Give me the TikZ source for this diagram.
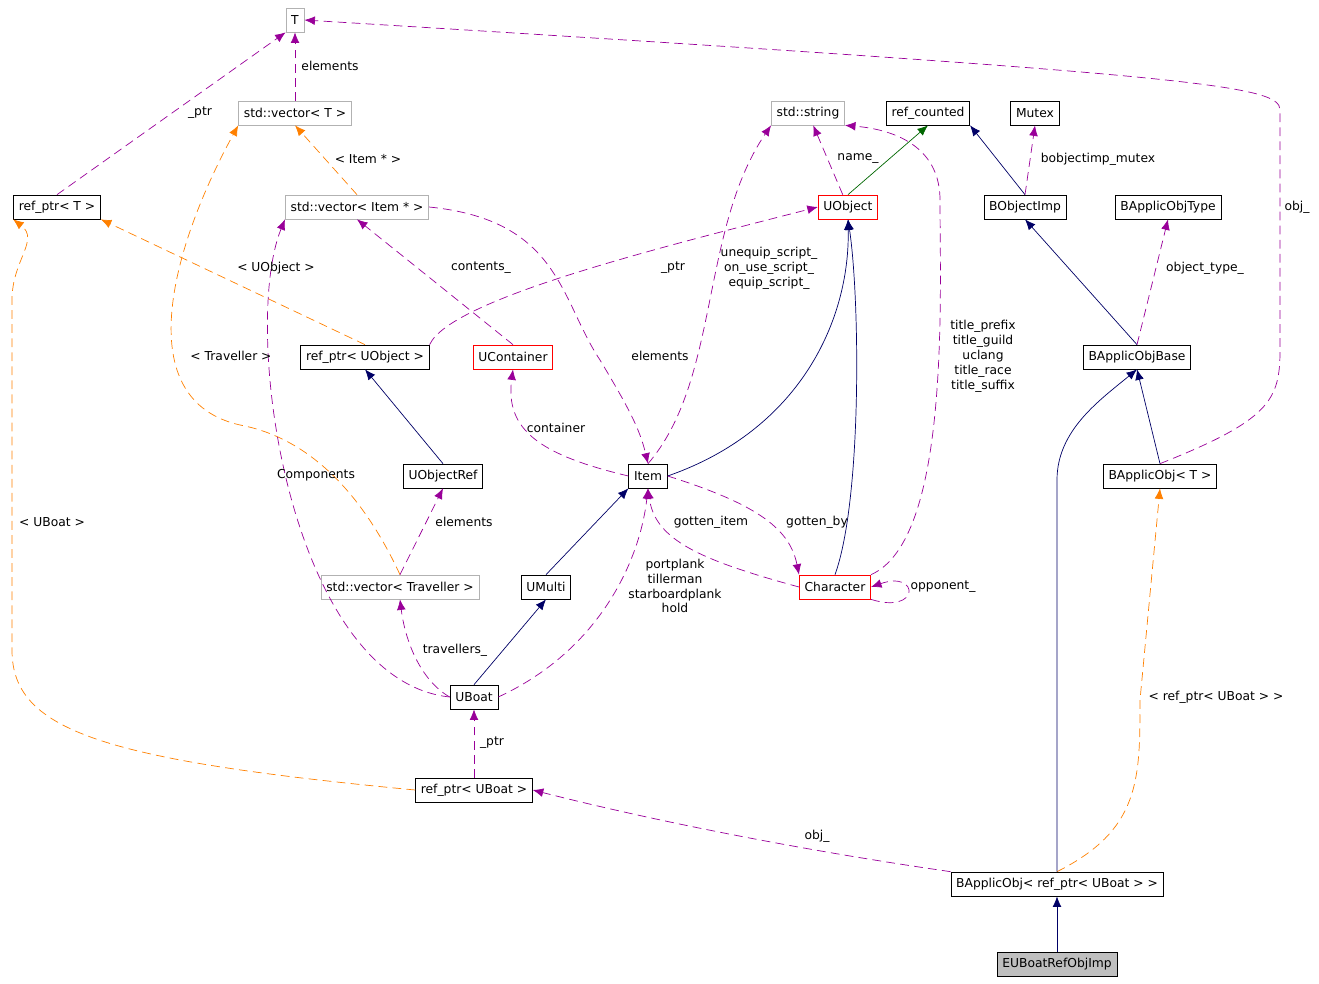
\documentclass[tikz,border=0pt]{standalone}
\usepackage{fontspec}
\setmainfont{DejaVu Sans}
\usetikzlibrary{arrows.meta}
\begin{document}
\begin{tikzpicture}[x=0.02cm,y=-0.02cm,font=\fontsize{7}{8.5}\selectfont]
\tikzstyle{cls}=[draw=black,fill=white,minimum height=0.48cm,inner sep=3pt,line width=0.4pt]
\tikzstyle{ext}=[cls,draw=gray!60]
\tikzstyle{red}=[cls,draw=red]
\tikzstyle{uses}=[draw=violet!80!magenta,dash pattern=on 5pt off 3pt,-{Latex[length=6pt,width=5pt]}]
\tikzstyle{tmpl}=[draw=orange,dash pattern=on 5pt off 3pt,-{Latex[length=6pt,width=5pt]}]
\tikzstyle{inh}=[draw=blue!40!black,-{Latex[length=6pt,width=5pt]}]
\tikzstyle{lbl}=[inner sep=1pt,align=center]
\useasboundingbox (0,0) rectangle (1319,984);
\node[ext] (T) at (295,20) {T};
\node[ext] (vecT) at (295,113) {std::vector< T >};
\node[ext] (vecItem) at (357,207) {std::vector< Item * >};
\node[cls] (refT) at (57,207) {ref\_ptr< T >};
\node[ext] (string) at (808,113) {std::string};
\node[cls] (refcnt) at (928,113) {ref\_counted};
\node[cls] (mutex) at (1035,113) {Mutex};
\node[red] (uobj) at (848,207) {UObject};
\node[cls] (bimp) at (1025,207) {BObjectImp};
\node[cls] (btype) at (1168,207) {BApplicObjType};
\node[cls] (refUObj) at (365,357) {ref\_ptr< UObject >};
\node[red] (ucont) at (513,357) {UContainer};
\node[cls] (bbase) at (1137,357) {BApplicObjBase};
\node[cls] (uref) at (443,476) {UObjectRef};
\node[cls] (item) at (648,476) {Item};
\node[cls] (bT) at (1160,476) {BApplicObj< T >};
\node[ext] (vecTrav) at (400,587) {std::vector< Traveller >};
\node[cls] (umulti) at (546,587) {UMulti};
\node[red] (chr) at (835,587) {Character};
\node[cls] (uboat) at (474,697) {UBoat};
\node[cls] (refUBoat) at (474,790) {ref\_ptr< UBoat >};
\node[cls] (bRef) at (1057,884) {BApplicObj< ref\_ptr< UBoat > >};
\node[cls,fill=gray!50] (eub) at (1057,964) {EUBoatRefObjImp};
% connectors
\draw[uses] (vecT) -- (T);
\draw[uses] (refT.north) -- (T.south west);
\draw[tmpl] (vecItem.north) -- (vecT.south);
\draw[tmpl] (refUObj.north) -- (refT.south east);
\draw[tmpl] (vecTrav.north) .. controls (370,510) and (320,440) .. (240,425) .. controls (130,400) and (170,250) .. (vecT.south west);
\draw[tmpl] (refUBoat.west) .. controls (100,760) and (12,730) .. (12,650) -- (12,300) .. controls (12,260) and (40,240) .. (refT.south west);
\draw[tmpl] (bRef.north) .. controls (1140,830) and (1140,780) .. (1140,700) -- (bT.south);
\draw[uses] (uobj) -- (string);
\draw[draw=green!40!black,-{Latex[length=6pt,width=5pt]}] (uobj.north) -- (refcnt.south);
\draw[inh] (bimp.north) -- (refcnt.south east);
\draw[uses] (bimp.north) -- (mutex.south);
\draw[inh] (bbase.north) -- (bimp.south);
\draw[uses] (bbase.north) -- (btype.south);
\draw[inh] (bT.north) -- (bbase.south);
\draw[uses] (bT.north) .. controls (1270,420) and (1280,400) .. (1280,350) -- (1280,110) .. controls (1280,85) and (1200,75) .. (T.east);
\draw[inh] (bRef.north) -- (1057,480) .. controls (1057,430) and (1100,400) .. (bbase.south);
\draw[uses] (bRef.north west) .. controls (800,850) and (650,820) .. (refUBoat.east);
\draw[inh] (eub) -- (bRef);
\draw[uses] (refUObj.north east) .. controls (450,300) and (650,250) .. (uobj.west);
\draw[uses] (ucont.north) -- (vecItem.south);
\draw[uses] (vecItem.east) .. controls (560,220) and (560,300) .. (600,360) .. controls (630,410) and (640,430) .. (item.north);
\draw[uses] (item.west) .. controls (540,455) and (505,430) .. (ucont.south);
\draw[uses] (item.north) .. controls (720,380) and (700,230) .. (string.south west);
\draw[uses] (chr.north east) .. controls (950,540) and (940,300) .. (940,200) .. controls (940,150) and (900,130) .. (string.south east);
\draw[inh] (item.east) .. controls (800,430) and (850,320) .. (uobj.south);
\draw[inh] (chr.north) .. controls (862,500) and (860,300) .. (uobj.south);
\draw[uses] (item.east) .. controls (760,505) and (790,530) .. (chr.north west);
\draw[uses] (chr.west) .. controls (700,560) and (655,540) .. (item.south);
\draw[uses] (uboat.east) .. controls (600,650) and (640,560) .. (item.south);
\draw[uses] (chr.south east) .. controls (920,615) and (920,570) .. (chr.east);
\draw[uses] (vecTrav.north) -- (uref.south);
\draw[inh] (uref.north) -- (refUObj.south);
\draw[uses] (uboat.west) .. controls (290,680) and (240,330) .. (vecItem.south west);
\draw[uses] (uboat.west) .. controls (420,680) and (405,640) .. (vecTrav.south);
\draw[inh] (uboat.north) -- (umulti.south);
\draw[inh] (umulti.north) -- (item.south west);
\draw[uses] (refUBoat.north) -- (uboat.south);
% labels
\node[lbl] (l1) at (330,66) {elements};
\node[lbl] (l2) at (200,113) {\_ptr};
\node[lbl] (l3) at (368,159) {< Item * >};
\node[lbl] (l4) at (276,268) {< UObject >};
\node[lbl] (l5) at (231,356) {< Traveller >};
\node[lbl] (l6) at (52,522) {< UBoat >};
\node[lbl] (l7) at (1216,697) {< ref\_ptr< UBoat > >};
\node[lbl] (l8) at (858,159) {name\_};
\node[lbl] (l9) at (1098,159) {bobjectimp\_mutex};
\node[lbl] (l10) at (1205,268) {object\_type\_};
\node[lbl] (l11) at (1297,207) {obj\_};
\node[lbl] (l12) at (817,836) {obj\_};
\node[lbl] (l13) at (673,268) {\_ptr};
\node[lbl] (l14) at (481,268) {contents\_};
\node[lbl] (l15) at (660,356) {elements};
\node[lbl] (l16) at (556,428) {container};
\node[lbl] (l17) at (769,268) {unequip\_script\_\\on\_use\_script\_\\equip\_script\_};
\node[lbl] (l18) at (983,356) {title\_prefix\\title\_guild\\uclang\\title\_race\\title\_suffix};
\node[lbl] (l19) at (817,522) {gotten\_by};
\node[lbl] (l20) at (711,522) {gotten\_item};
\node[lbl] (l21) at (675,586) {portplank\\tillerman\\starboardplank\\hold};
\node[lbl] (l22) at (943,587) {opponent\_};
\node[lbl] (l23) at (464,522) {elements};
\node[lbl] (l24) at (316,475) {Components};
\node[lbl] (l25) at (455,650) {travellers\_};
\node[lbl] (l26) at (492,743) {\_ptr};
\end{tikzpicture}
\end{document}
